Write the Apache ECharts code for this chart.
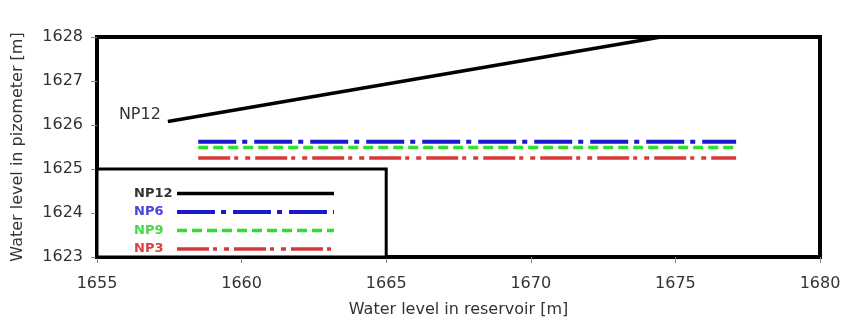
<!DOCTYPE html>
<html>
<head>
<meta charset="utf-8">
<script src="https://cdn.jsdelivr.net/npm/echarts@6/dist/echarts.min.js"></script>
<style>
  html, body { margin: 0; padding: 0; background: #fff; }
  #main { width: 846px; height: 323px; }
</style>
</head>
<body>
<div id="main"></div>
<script>
// x: water level in reservoir, y: water level in piezometer
const xTicks = [1655, 1660, 1665, 1670, 1675, 1680];
const yTicks = [1623, 1624, 1625, 1626, 1627, 1628];

const np12 = [[1657.45, 1626.08], [1674.5, 1628]];
const np6 = [[1658.5, 1625.62], [1677.1, 1625.62]];
const np9 = [[1658.5, 1625.49], [1677.1, 1625.49]];
const np3 = [[1658.5, 1625.25], [1677.1, 1625.25]];

// box behind the legend (data units)
const legendBox = [[1655, 1623], [1665, 1625]];

const font = 'DejaVu Sans';
const chart = echarts.init(document.getElementById('main'));

function legendItem(name, color) {
    return {
        name: name,
        textStyle: {
            rich: { a: { width: 38, align: 'left', color: color, fontWeight: 'bold', fontSize: 13, fontFamily: font } }
        }
    };
}

let option = {
    animation: false,
    backgroundColor: '#fff',
    grid: {
        left: 97, right: 26, top: 37, bottom: 56,
        show: true, borderColor: '#000', borderWidth: 4
    },
    legend: {
        orient: 'vertical',
        left: 129, top: 182,
        align: 'right',
        itemWidth: 157, itemHeight: 16, itemGap: 5.5,
        itemStyle: { opacity: 0 },
        lineStyle: { width: 'inherit' },
        formatter: function (n) { return '{a|' + n + '}'; },
        data: [
            legendItem('NP12', '#333'),
            legendItem('NP6', '#4545dd'),
            legendItem('NP9', '#40dd40'),
            legendItem('NP3', '#dd4040')
        ]
    },
    xAxis: {
        type: 'value',
        min: xTicks[0], max: xTicks[xTicks.length - 1], interval: 5,
        name: 'Water level in reservoir [m]',
        nameLocation: 'middle', nameGap: 45,
        nameTextStyle: { fontFamily: font, fontSize: 16, color: '#333' },
        axisLine: { show: false },
        axisTick: { show: true, length: 6, lineStyle: { color: '#888' } },
        axisLabel: { fontFamily: font, fontSize: 16, color: '#333', margin: 19, formatter: function (v) { return String(v); } },
        splitLine: { show: false }
    },
    yAxis: {
        type: 'value',
        min: yTicks[0], max: yTicks[yTicks.length - 1], interval: 1,
        name: 'Water level in pizometer [m]',
        nameLocation: 'middle', nameGap: 71,
        nameTextStyle: { fontFamily: font, fontSize: 16, color: '#333' },
        axisLine: { show: false },
        axisTick: { show: true, length: 6, lineStyle: { color: '#888' } },
        axisLabel: { fontFamily: font, fontSize: 16, color: '#333', margin: 14, formatter: function (v) { return String(v); } },
        splitLine: { show: false }
    },
    series: [
        {
            name: 'NP12', type: 'line', symbol: 'none', z: 5,
            lineStyle: { color: '#000', width: 3.5 },
            itemStyle: { color: '#000' },
            data: np12,
            markPoint: {
                silent: true,
                symbolSize: 0,
                label: { show: true, position: 'left', offset: [-2, -7], formatter: 'NP12',
                    fontFamily: font, fontSize: 16, color: '#333' },
                data: [{ coord: np12[0] }]
            },
            markArea: {
                silent: true,
                itemStyle: { color: '#fff', borderColor: '#000', borderWidth: 3 },
                data: [[
                    { coord: legendBox[0] },
                    { coord: legendBox[1] }
                ]]
            }
        },
        {
            name: 'NP6', type: 'line', symbol: 'none', z: 6,
            lineStyle: { color: '#1a1acc', width: 4, type: [38, 6, 5, 7] },
            itemStyle: { color: '#1a1acc' },
            data: np6
        },
        {
            name: 'NP9', type: 'line', symbol: 'none', z: 6,
            lineStyle: { color: '#2ee02e', width: 3.5, type: [10, 5] },
            itemStyle: { color: '#2ee02e' },
            data: np9
        },
        {
            name: 'NP3', type: 'line', symbol: 'none', z: 6,
            lineStyle: { color: '#d83838', width: 3.5, type: [32, 4, 4, 7, 5, 5] },
            itemStyle: { color: '#d83838' },
            data: np3
        }
    ]
};
chart.setOption(option);
</script>
</body>
</html>
